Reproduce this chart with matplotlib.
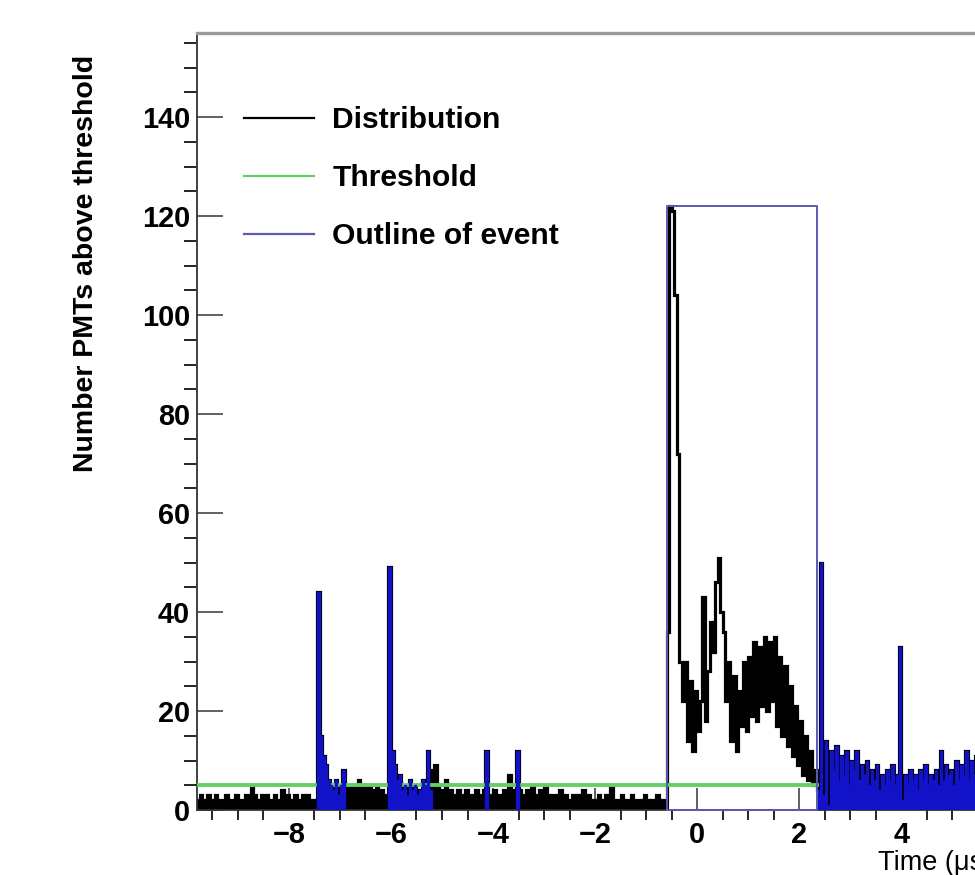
import numpy as np
import matplotlib

matplotlib.use("Agg")
import matplotlib.pyplot as plt  # noqa: E402

plt.rcParams["font.family"] = ["Liberation Sans", "DejaVu Sans"]

# ---- data: PMT multiplicity per 50 ns bin -----------------------------------
t_first = -9.8          # us, left edge of the first bin
bin_w = 0.05            # us
threshold = 5

# -9.8 .. -0.6 us (before the event)
pre_counts = [
    2, 3, 1, 2, 3, 2, 1, 3, 2, 2, 1, 3, 2, 1, 2, 3, 1, 2, 2, 3,
    2, 5, 3, 2, 1, 3, 2, 3, 1, 2, 3, 2, 1, 4, 2, 3, 1, 2, 3, 2,
    1, 3, 2, 3, 2, 1, 2, 44, 15, 11, 9, 6, 5, 4, 6, 3, 5, 8, 4, 5,
    3, 5, 4, 6, 3, 5, 4, 5, 3, 4, 5, 3, 4, 2, 3, 49, 12, 9, 6, 7,
    4, 5, 3, 6, 4, 5, 3, 4, 6, 5, 12, 4, 8, 9, 5, 3, 4, 6, 3, 4,
    3, 2, 4, 3, 2, 4, 3, 2, 3, 4, 2, 3, 4, 12, 3, 2, 4, 3, 2, 3,
    4, 3, 7, 4, 3, 12, 4, 3, 2, 4, 3, 5, 2, 3, 4, 2, 5, 3, 2, 3,
    2, 3, 4, 2, 3, 2, 1, 3, 2, 3, 2, 4, 2, 3, 2, 1, 2, 3, 2, 2,
    3, 2, 5, 2, 1, 2, 3, 2, 1, 2, 3, 2, 2, 1, 2, 3, 2, 1, 2, 2,
    3, 2, 1, 2,
]
# -0.6 .. 2.35 us (the event)
event_counts = [
    36, 122, 121, 104, 72, 30, 22, 30, 14, 26, 12, 24, 16, 22, 43, 18, 28, 38, 32, 46,
    51, 40, 36, 22, 30, 14, 27, 12, 24, 17, 30, 16, 31, 19, 34, 18, 33, 21, 35, 20,
    34, 22, 35, 17, 31, 15, 29, 13, 25, 11, 21, 9, 18, 7, 15, 6, 12, 5, 8,
]
# 2.35 .. 5.6 us (after the event)
post_counts = [
    4, 50, 3, 14, 1, 12, 8, 13, 6, 11, 7, 12, 5, 10, 8, 12, 6, 9, 7, 10,
    5, 8, 6, 9, 4, 7, 5, 8, 6, 9, 5, 7, 33, 2, 7, 5, 8, 6, 7, 4,
    8, 6, 9, 5, 7, 6, 8, 5, 12, 6, 9, 7, 8, 5, 10, 6, 9, 7, 12, 6,
    10, 7, 11, 6, 9,
]
# other windows flagged by the outline finder (us)
blue_windows = [(-7.45, -6.9), (-6.05, -5.2), (-4.15, -4.1), (-3.55, -3.5)]

BLACK, GREEN, BLUE, OUTLINE = "black", "#62d062", "#1212c8", "#5a5ab4"

counts = np.array(pre_counts + event_counts + post_counts, dtype=float)
edges = t_first + bin_w * np.arange(len(counts) + 1)
n_pre, n_evt = len(pre_counts), len(event_counts)
evt_start, evt_end = edges[n_pre], edges[n_pre + n_evt]
evt_peak = max(event_counts)

fig = plt.figure(figsize=(9.75, 8.75), dpi=100)
ax = fig.add_axes([197 / 975, 65 / 875, 806.5 / 975, 777 / 875])

# full distribution, filled below where it is just noise
ax.stairs(counts, edges, color=BLACK, lw=2.3, zorder=2)
ax.stairs(counts[:n_pre + 1], edges[:n_pre + 2], color=BLACK, fill=True, zorder=2)

ax.plot([edges[0], evt_end], [threshold, threshold], color=GREEN, lw=2.8, zorder=3)

# blue: bins inside the other windows and after the event
for lo, hi in blue_windows:
    i0 = int(round((lo - t_first) / bin_w))
    i1 = int(round((hi - t_first) / bin_w))
    ax.stairs(counts[i0:i1], edges[i0:i1 + 1], color=BLUE, fill=True, zorder=4)
    ax.stairs(counts[i0:i1], edges[i0:i1 + 1], color=BLUE, lw=1.0, zorder=4)
j0 = n_pre + n_evt
ax.stairs(counts[j0:], edges[j0:], color=BLUE, fill=True, zorder=4)
ax.stairs(counts[j0:], edges[j0:], color=BLUE, lw=1.0, zorder=4)

ax.plot([evt_start, evt_start, evt_end, evt_end, evt_start], [0, evt_peak, evt_peak, 0, 0],
        color=OUTLINE, lw=1.4, zorder=5, clip_on=False)

# legend
ax.plot([], [], color=BLACK, lw=1.6, label="Distribution")
ax.plot([], [], color=GREEN, lw=1.6, label="Threshold")
ax.plot([], [], color=OUTLINE, lw=1.6, label="Outline of event")
ax.legend(loc="upper left", bbox_to_anchor=(0.058, 0.906), frameon=False,
          prop={"weight": "bold", "size": 21.6}, handlelength=2.35, handletextpad=0.6,
          labelspacing=1.0, borderpad=0, borderaxespad=0)

ax.set_xlim(-9.8, 6.0)
ax.set_ylim(0, 157)
ax.set_xticks(np.arange(-8, 5, 2))
ax.set_xticks(np.arange(-9.5, 6.01, 0.5), minor=True)
ax.set_yticks(np.arange(0, 141, 20))
ax.set_yticks(np.arange(0, 157, 5), minor=True)
ax.tick_params(axis="both", direction="in", colors="#444444", labelcolor="black",
               labelsize=20.8)
ax.tick_params(axis="y", which="major", length=19, width=1.2, pad=5)
ax.tick_params(axis="y", which="minor", length=9.5, width=1.2)
ax.tick_params(axis="x", which="major", length=16, width=1.2, pad=8)
ax.tick_params(axis="x", which="minor", length=7.5, width=1.2)
for lab in ax.get_xticklabels() + ax.get_yticklabels():
    lab.set_fontweight("bold")

ax.spines["top"].set_color("#9a9a9a")
ax.spines["top"].set_linewidth(2.4)
ax.spines["left"].set_color("#333333")
ax.spines["left"].set_linewidth(1.3)
ax.spines["bottom"].set_color("#333333")
ax.spines["bottom"].set_linewidth(1.3)

fig.text(86 / 975, 1 - 55 / 875, "Number PMTs above threshold", rotation=90,
         ha="center", va="top", fontsize=20.5, fontweight="bold")
fig.text(878 / 975, 1 - 863 / 875, "Time (\u03bcs)", ha="left", va="center", fontsize=19.5)

fig.savefig("out.png", dpi=100)
